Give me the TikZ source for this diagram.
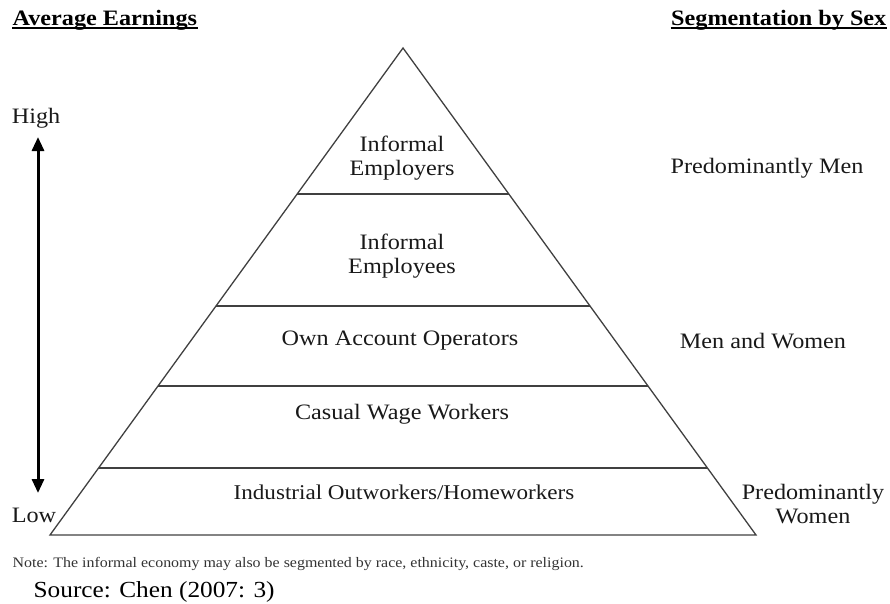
\documentclass[tikz,border=0pt]{standalone}
\usepackage{fontspec}
\setmainfont[FakeStretch=1.1]{Liberation Serif}
\usetikzlibrary{arrows.meta,calc}

\begin{document}
\begin{tikzpicture}[x=1pt, y=-1pt, line width=1.3pt,
    txt/.style={font=\fontsize{22}{24}\selectfont, align=center, text=black!90},
    head/.style={font=\fontsize{22}{24}\selectfont\bfseries, inner sep=0pt}]
  \useasboundingbox (0,0) rectangle (890,603);
  % the pyramid and its layers
  \coordinate (apex) at (403,48);
  \coordinate (bl) at (50,535);
  \coordinate (br) at (756,535);
  \draw[black!75] (bl) -- (apex) -- (br) -- cycle;
  \foreach \y in {194,306,386,468}
    \draw[black!75] ($(apex)!{(\y-48)/487}!(bl)$) -- ($(apex)!{(\y-48)/487}!(br)$);
  \node[txt] (employers) at (402,158) {Informal\\Employers};
  \node[txt] (employees) at (402,256) {Informal\\Employees};
  \node[txt] (own) at (400,341) {Own Account Operators};
  \node[txt] (casual) at (402,414) {Casual Wage Workers};
  \node[txt, font=\fontsize{21}{24}\selectfont] (outwork) at (404,492) {Industrial Outworkers/Homeworkers};
  % earnings scale
  \node[head, anchor=base west] (earn) at (12,25) {Average Earnings};
  \draw[line width=2.5pt] ([yshift=-3pt]earn.base west) -- ([yshift=-3pt]earn.base east);
  \node[txt] (high) at (36,118) {High};
  \node[txt] (low) at (34,515) {Low};
  \coordinate (up) at (38,137);
  \coordinate (down) at (38,493);
  \draw[{Triangle[length=14pt,width=12pt]}-{Triangle[length=14pt,width=12pt]}, line width=3pt] (up) -- (down);
  % segmentation by sex
  \node[head, anchor=base east] (seg) at (887,25) {Segmentation by Sex};
  \draw[line width=2.5pt] ([yshift=-3pt]seg.base west) -- ([yshift=-3pt]seg.base east);
  \node[txt] (men) at (767,168) {Predominantly Men};
  \node[txt] (both) at (763,341) {Men and Women};
  \node[txt] (women) at (813,504) {Predominantly\\Women};
  % note and source
  \node[anchor=base west, inner sep=0pt, text=black!80, font=\fontsize{14.5}{16}\selectfont] (note) at (12,567)
    {Note: The informal economy may also be segmented by race, ethnicity, caste, or religion.};
  \node[anchor=base west, inner sep=0pt, font=\fontsize{23}{26}\selectfont] (source) at (33,597) {Source: Chen (2007: 3)};
\end{tikzpicture}
\end{document}
